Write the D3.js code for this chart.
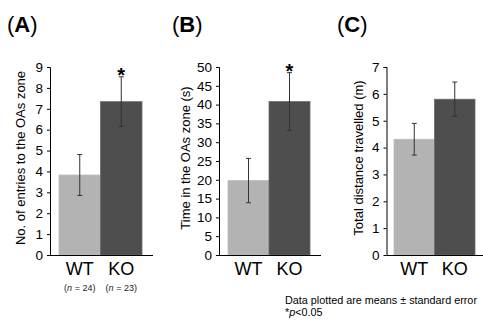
<!DOCTYPE html>
<html>
<head>
<meta charset="utf-8">
<script src="https://cdn.jsdelivr.net/npm/d3@7"></script>
<style>
  html, body { margin: 0; padding: 0; background: #fff; }
  svg { display: block; font-family: "Liberation Sans", Arial, sans-serif; }
</style>
</head>
<body>
<svg id="chart" width="483" height="320"></svg>
<script>
// ---- data ----
const groups = ["WT", "KO"];
const nLabels = ["24", "23"];
const significance = ["", "*"];

const entriesMean = [3.83, 7.34];
const entriesSE = [0.98, 1.19];
const entriesTicks = [0, 1, 2, 3, 4, 5, 6, 7, 8, 9];

const timeMean = [19.8, 40.8];
const timeSE = [5.9, 7.7];
const timeTicks = [0, 5, 10, 15, 20, 25, 30, 35, 40, 45, 50];

const distMean = [4.31, 5.80];
const distSE = [0.59, 0.64];
const distTicks = [0, 1, 2, 3, 4, 5, 6, 7];

const panelTitles = ["A", "B", "C"];
const yLabels = ["No. of entries to the OAs zone", "Time in the OAs zone (s)", "Total distance travelled (m)"];
const footnote = "Data plotted are means \u00b1 standard error";

// ---- layout ----
const svg = d3.select("#chart");
const barColors = ["#b3b3b3", "#4e4e4e"];
const yTop = 67, yBottom = 255;

const panels = [
  { mean: entriesMean, se: entriesSE, ticks: entriesTicks, axisX: 50, barL: 59, barR: 142, baseR: 153, titleX: 7, labelX: 20, showN: true },
  { mean: timeMean, se: timeSE, ticks: timeTicks, axisX: 219, barL: 228, barR: 310, baseR: 321, titleX: 172, labelX: 185, showN: false },
  { mean: distMean, se: distSE, ticks: distTicks, axisX: 386.5, barL: 394, barR: 475, baseR: 483, titleX: 337, labelX: 358, showN: false }
];

panels.forEach((p, i) => {
  const y = d3.scaleLinear()
    .domain([0, d3.max(p.ticks)])
    .range([yBottom, yTop]);
  const x = d3.scaleBand().domain(groups).range([p.barL, p.barR]).padding(0);

  const g = svg.append("g");

  // title
  const t = g.append("text")
    .attr("x", p.titleX).attr("y", 32)
    .attr("font-size", 22).attr("fill", "#000");
  t.append("tspan").text("(");
  t.append("tspan").attr("font-weight", "bold").text(panelTitles[i]);
  t.append("tspan").text(")");

  // bars
  g.selectAll("rect.bar").data(groups).enter().append("rect")
    .attr("class", "bar")
    .attr("x", d => x(d))
    .attr("width", x.bandwidth())
    .attr("y", (d, j) => y(p.mean[j]))
    .attr("height", (d, j) => y(0) - y(p.mean[j]))
    .attr("fill", (d, j) => barColors[j])
    .attr("stroke", (d, j) => j === 0 ? "#bdbdbd" : "#6a6a6a")
    .attr("stroke-width", 0.8);

  // error bars
  const eb = g.selectAll("g.err").data(groups).enter().append("g").attr("class", "err")
    .attr("stroke", "#333").attr("stroke-width", 1);
  eb.append("line")
    .attr("x1", d => x(d) + x.bandwidth() / 2)
    .attr("x2", d => x(d) + x.bandwidth() / 2)
    .attr("y1", (d, j) => y(p.mean[j] + p.se[j]))
    .attr("y2", (d, j) => y(p.mean[j] - p.se[j]));
  [1, -1].forEach(s => {
    eb.append("line")
      .attr("x1", d => x(d) + x.bandwidth() / 2 - 2.5)
      .attr("x2", d => x(d) + x.bandwidth() / 2 + 2.5)
      .attr("y1", (d, j) => y(p.mean[j] + s * p.se[j]))
      .attr("y2", (d, j) => y(p.mean[j] + s * p.se[j]));
  });

  // significance
  if (i < 2) {
    g.selectAll("text.sig").data(groups).enter().append("text")
      .attr("class", "sig")
      .attr("x", d => x(d) + x.bandwidth() / 2)
      .attr("y", (d, j) => y(p.mean[j] + p.se[j]) + 5)
      .attr("text-anchor", "middle")
      .attr("font-size", 20).attr("font-weight", "bold")
      .text((d, j) => significance[j]);
  }

  // y axis
  const axis = d3.axisLeft(y).tickValues(p.ticks).tickSize(3).tickPadding(4).tickFormat(d3.format("d"));
  const ag = g.append("g").attr("transform", `translate(${p.axisX},0)`).call(axis);
  ag.select(".domain").attr("d", `M-3,${yTop}.5H0.5V${yBottom}`).attr("stroke", "#000");
  ag.selectAll(".tick line").attr("stroke", "#000");
  ag.selectAll(".tick text").attr("font-size", 13.5).attr("fill", "#000")
    .attr("font-family", "Liberation Sans, Arial, sans-serif");

  // baseline
  g.append("line")
    .attr("x1", p.axisX).attr("x2", p.baseR)
    .attr("y1", yBottom + 0.5).attr("y2", yBottom + 0.5)
    .attr("stroke", "#000").attr("stroke-width", 1);

  // group labels
  g.selectAll("text.grp").data(groups).enter().append("text")
    .attr("class", "grp")
    .attr("x", d => x(d) + x.bandwidth() / 2)
    .attr("y", 275)
    .attr("text-anchor", "middle")
    .attr("font-size", 18)
    .text(d => d);

  if (p.showN) {
    const nt = g.selectAll("text.n").data(groups).enter().append("text")
      .attr("class", "n")
      .attr("x", d => x(d) + x.bandwidth() / 2)
      .attr("y", 291)
      .attr("text-anchor", "middle")
      .attr("font-size", 9).attr("fill", "#222");
    nt.append("tspan").text("(");
    nt.append("tspan").attr("font-style", "italic").text("n");
    nt.append("tspan").text((d, j) => " = " + nLabels[j] + ")");
  }

  // y label
  g.append("text")
    .attr("transform", `translate(${p.labelX},158) rotate(-90)`)
    .attr("dy", "0.35em")
    .attr("text-anchor", "middle")
    .attr("font-size", 13)
    .text(yLabels[i]);
});

// footnote
svg.append("text").attr("x", 285).attr("y", 304).attr("font-size", 10.8).text(footnote);
const fn2 = svg.append("text").attr("x", 285).attr("y", 316).attr("font-size", 10.8);
fn2.append("tspan").text("*");
fn2.append("tspan").attr("font-style", "italic").text("p");
fn2.append("tspan").text("<0.05");
</script>
</body>
</html>
